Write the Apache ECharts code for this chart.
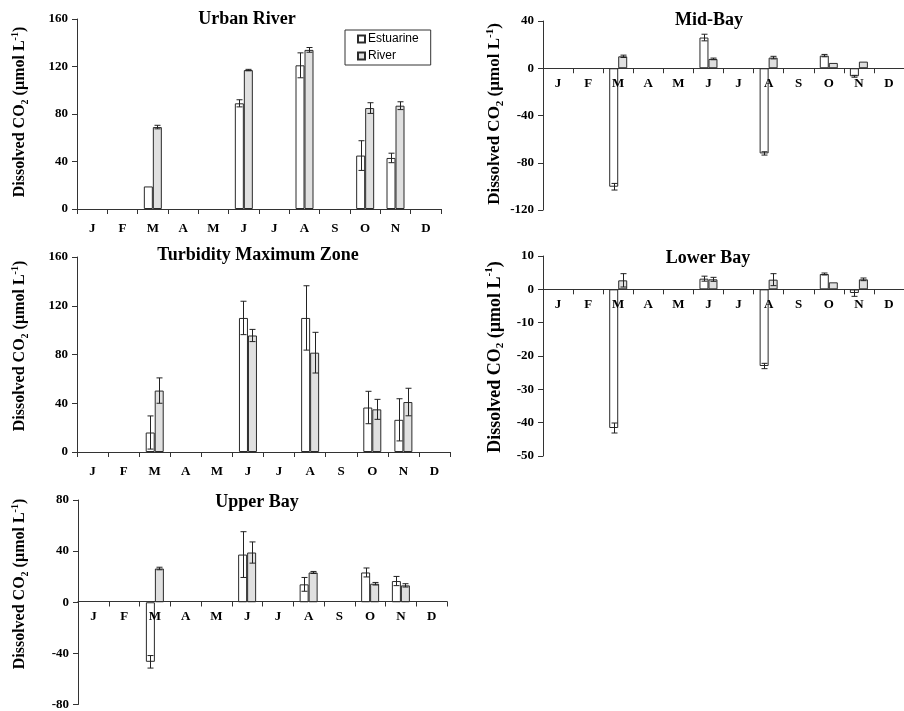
<!DOCTYPE html>
<html>
<head>
<meta charset="utf-8">
<script src="https://cdn.jsdelivr.net/npm/echarts@6/dist/echarts.min.js"></script>
<style>html,body{margin:0;padding:0;background:#fff}#c{width:904px;height:711px}</style>
</head>
<body>
<div id="c"></div>
<script>
// ---- data ----
const categories = ['Jan','Feb','Mar','Apr','May','Jun','Jul','Aug','Sep','Oct','Nov','Dec'];
const monthLabels = ['J','F','M','A','M','J','J','A','S','O','N','D'];

const urbanEst    = [null,null,19,null,null,89,null,121,null,45,43,null];
const urbanEstErr = [0,0,0,0,0,3,0,10.5,0,12.5,4,0];
const urbanRiv    = [null,null,69,null,null,117,null,134,null,85,87,null];
const urbanRivErr = [0,0,1.5,0,0,0.6,0,2,0,4.5,3.3,0];

const tmzEst    = [null,null,16,null,null,110,null,110,null,36.5,26.4,null];
const tmzEstErr = [0,0,13.6,0,0,13.7,0,26.4,0,13.3,17.3,0];
const tmzRiv    = [null,null,50.4,null,null,95.6,null,81.5,null,35,41,null];
const tmzRivErr = [0,0,10.4,0,0,5,0,16.7,0,8.2,11.3,0];

const upperEst    = [null,null,-46.6,null,null,37.3,null,14,null,23.3,16.6,null];
const upperEstErr = [0,0,4.9,0,0,17.9,0,5.4,0,3.5,3.6,0];
const upperRiv    = [null,null,26.4,null,null,38.9,null,23.3,null,14.5,13.2,null];
const upperRivErr = [0,0,1,0,0,8.3,0,0.8,0,1,1.3,0];

const midEst    = [null,null,-100.3,null,null,26,null,-72.1,null,10.7,-6.8,null];
const midEstErr = [0,0,2.8,0,0,2.8,0,1.4,0,1,0.8,0];
const midRiv    = [null,null,10.1,null,null,7.9,null,9,null,4.5,5.6,null];
const midRivErr = [0,0,1,0,0,0.7,0,1.1,0,0,0,0];

const lowerEst    = [null,null,-41.6,null,null,3.2,null,-23,null,4.6,-1.1,null];
const lowerEstErr = [0,0,1.5,0,0,0.75,0,0.8,0,0.3,1,0];
const lowerRiv    = [null,null,2.7,null,null,3,null,2.9,null,2.1,3,null];
const lowerRivErr = [0,0,2,0,0,0.6,0,1.8,0,0,0.4,0];

const panelTitles = ['Urban River','Turbidity Maximum Zone','Upper Bay','Mid-Bay','Lower Bay'];
const yRanges = [[0,160,40],[0,160,40],[-80,80,40],[-120,40,40],[-50,10,10]];

// ---- layout ----
const panels = [
  {est:urbanEst, estErr:urbanEstErr, riv:urbanRiv, rivErr:urbanRivErr,
   grid:{left:77,top:19,width:364,height:190}, title:[247,19], name:[20,112,16], lm:13},
  {est:tmzEst, estErr:tmzEstErr, riv:tmzRiv, rivErr:tmzRivErr,
   grid:{left:77,top:257,width:373,height:195}, title:[258,255], name:[20,346,16], lm:13},
  {est:upperEst, estErr:upperEstErr, riv:upperRiv, rivErr:upperRivErr,
   grid:{left:78,top:500,width:369,height:206}, title:[257,502], name:[20,584,16], lm:9},
  {est:midEst, estErr:midEstErr, riv:midRiv, rivErr:midRivErr,
   grid:{left:543,top:21,width:370,height:189}, title:[709,20], name:[495,114,17], lm:9},
  {est:lowerEst, estErr:lowerEstErr, riv:lowerRiv, rivErr:lowerRivErr,
   grid:{left:543,top:256,width:370,height:200}, title:[708,258], name:[495,357,18], lm:9}
];

const serif = '"Liberation Serif","Times New Roman",serif';
const axisColor = '#333';
const half = 4.5;

const grids = [], xAxes = [], yAxes = [], series = [], graphics = [];

function errData(vals, errs, side) {
  const out = [];
  vals.forEach((v, i) => { if (v !== null && errs[i] > 0) out.push([i, v, errs[i], side]); });
  return out;
}

function renderErr(params, api) {
  const ci = api.value(0), v = api.value(1), e = api.value(2), side = api.value(3);
  const t = api.coord([ci, v + e]);
  const b = api.coord([ci, v - e]);
  const x = Math.round(t[0] + (side ? half : -half)) + 0.5;
  const st = {stroke:'#222', lineWidth:1};
  return {type:'group', children:[
    {type:'line', shape:{x1:x, y1:t[1], x2:x, y2:b[1]}, style:st},
    {type:'line', shape:{x1:x-3, y1:t[1], x2:x+3, y2:t[1]}, style:st},
    {type:'line', shape:{x1:x-3, y1:b[1], x2:x+3, y2:b[1]}, style:st}
  ]};
}

panels.forEach((p, k) => {
  const r = yRanges[k];
  // place the category axis on the zero line (line, ticks and labels together)
  const zeroOffset = -p.grid.height * (0 - r[0]) / (r[1] - r[0]);
  grids.push(Object.assign({containLabel:false}, p.grid));
  xAxes.push({
    type:'category', gridIndex:k, data:categories, boundaryGap:true,
    position:'bottom', offset:zeroOffset, z:6,
    axisLine:{onZero:false, lineStyle:{color:axisColor, width:1}},
    axisTick:{show:true, interval:0, length:5, lineStyle:{color:axisColor}},
    axisLabel:{interval:0, margin:p.lm, color:'#000', fontFamily:serif, fontWeight:'bold', fontSize:13,
      formatter:(val, idx) => monthLabels[idx]},
    splitLine:{show:false}
  });
  yAxes.push({
    type:'value', gridIndex:k, min:r[0], max:r[1], interval:r[2], z:6,
    axisLine:{show:true, lineStyle:{color:axisColor, width:1}},
    axisTick:{show:true, length:5, lineStyle:{color:axisColor}},
    axisLabel:{margin:9, color:'#000', fontFamily:serif, fontWeight:'bold', fontSize:13},
    splitLine:{show:false}
  });
  series.push({
    name:'Estuarine', type:'bar', xAxisIndex:k, yAxisIndex:k, data:p.est,
    barWidth:9, barGap:'0%',
    itemStyle:{color:'#ffffff', borderColor:'#2a2a2a', borderWidth:1},
    emphasis:{disabled:true}
  });
  series.push({
    name:'River', type:'bar', xAxisIndex:k, yAxisIndex:k, data:p.riv,
    barWidth:9, barGap:'0%',
    itemStyle:{color:'#e0e0e0', borderColor:'#2a2a2a', borderWidth:1},
    emphasis:{disabled:true}
  });
  series.push({
    name:'errE'+k, type:'custom', xAxisIndex:k, yAxisIndex:k, z:5,
    renderItem:renderErr, encode:{x:0, y:1}, data:errData(p.est, p.estErr, 0)
  });
  series.push({
    name:'errR'+k, type:'custom', xAxisIndex:k, yAxisIndex:k, z:5,
    renderItem:renderErr, encode:{x:0, y:1}, data:errData(p.riv, p.rivErr, 1)
  });
  graphics.push({
    type:'text', x:p.title[0], y:p.title[1], z:10,
    style:{text:panelTitles[k], align:'center', verticalAlign:'middle',
      fontFamily:serif, fontWeight:'bold', fontSize:18, fill:'#000'}
  });
  const fs = p.name[2], sfs = Math.round(fs*0.62);
  graphics.push({
    type:'text', x:p.name[0], y:p.name[1], rotation:Math.PI/2, z:10,
    style:{
      text:'{a|Dissolved CO}{b|2}{a| (µmol L}{c|-1}{a|)}',
      align:'center', verticalAlign:'middle',
      rich:{
        a:{fontFamily:serif, fontWeight:'bold', fontSize:fs, fill:'#000', lineHeight:fs+4},
        b:{fontFamily:serif, fontWeight:'bold', fontSize:sfs, fill:'#000', verticalAlign:'bottom', lineHeight:fs+4},
        c:{fontFamily:serif, fontWeight:'bold', fontSize:sfs, fill:'#000', verticalAlign:'top', lineHeight:fs+4}
      }
    }
  });
});

const chart = echarts.init(document.getElementById('c'), null, {renderer:'canvas'});
chart.setOption({
  animation:false,
  backgroundColor:'#fff',
  grid:grids, xAxis:xAxes, yAxis:yAxes, series:series,
  legend:{
    data:['Estuarine','River'], orient:'vertical', left:345, top:30,
    padding:[3,12,3,12], itemGap:5, itemWidth:7, itemHeight:7, icon:'rect',
    borderColor:'#333', borderWidth:1, selectedMode:false,
    textStyle:{fontFamily:'"Liberation Sans",Arial,sans-serif', fontSize:12, color:'#000', padding:[0,0,0,-2]}
  },
  graphic:graphics
});
</script>
</body>
</html>
